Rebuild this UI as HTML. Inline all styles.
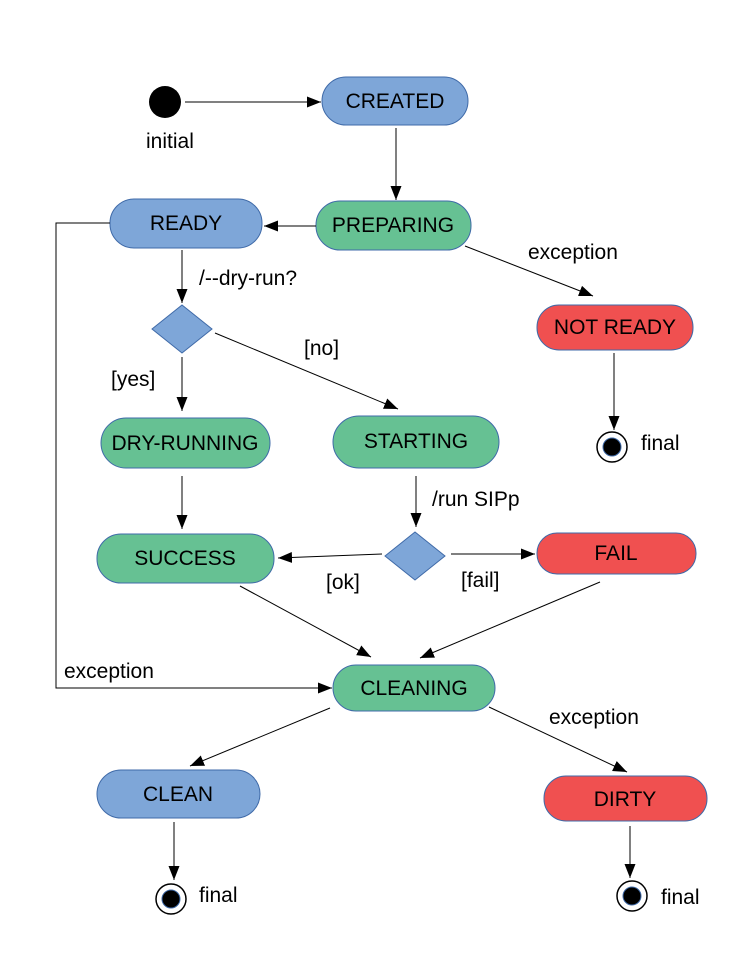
<!DOCTYPE html>
<html><head><meta charset="utf-8"><style>
html,body{margin:0;padding:0;background:#fff;}
svg{display:block;}
text{font-family:"Liberation Sans",sans-serif;font-size:21px;fill:#000;}
.b{fill:#7ea6d8;stroke:#3f6aa8;stroke-width:1;}
.g{fill:#66c193;stroke:#3f6aa8;stroke-width:1;}
.r{fill:#f05050;stroke:#3f6aa8;stroke-width:1;}
.l{stroke:#000;stroke-width:1;fill:none;marker-end:url(#a);}
</style></head><body>
<svg width="748" height="968" viewBox="0 0 748 968">
<defs><marker id="a" markerWidth="16" markerHeight="12" refX="14" refY="5.5" orient="auto" markerUnits="userSpaceOnUse"><path d="M0,0 L14,5.5 L0,11 Z" fill="#000"/></marker></defs>
<circle cx="165" cy="102" r="16" fill="#000"/>
<text x="146" y="148">initial</text>
<rect class="b" x="322" y="77" width="146" height="48" rx="24"/><text x="395" y="108" text-anchor="middle">CREATED</text>
<rect class="b" x="110" y="199" width="152" height="49" rx="24"/><text x="186" y="230" text-anchor="middle">READY</text>
<rect class="g" x="316" y="201" width="155" height="49" rx="24"/><text x="393" y="232" text-anchor="middle">PREPARING</text>
<rect class="r" x="537" y="305" width="156" height="45" rx="22"/><text x="615" y="334" text-anchor="middle">NOT READY</text>
<rect class="g" x="101" y="418" width="169" height="50" rx="25"/><text x="185" y="450" text-anchor="middle">DRY-RUNNING</text>
<rect class="g" x="333" y="416" width="166" height="52" rx="26"/><text x="416" y="448" text-anchor="middle">STARTING</text>
<rect class="g" x="97" y="534" width="177" height="49" rx="24"/><text x="185" y="565" text-anchor="middle">SUCCESS</text>
<rect class="r" x="537" y="533" width="159" height="41" rx="20"/><text x="616" y="560" text-anchor="middle">FAIL</text>
<rect class="g" x="333" y="665" width="162" height="46" rx="23"/><text x="414" y="695" text-anchor="middle">CLEANING</text>
<rect class="b" x="97" y="770" width="163" height="48" rx="24"/><text x="178" y="801" text-anchor="middle">CLEAN</text>
<rect class="r" x="544" y="776" width="163" height="45" rx="22"/><text x="625" y="806" text-anchor="middle">DIRTY</text>
<polygon class="b" points="152,329 182,305 212,329 182,353"/>
<polygon class="b" points="385,556 415,532 445,556 415,580"/>
<g fill="#fff" stroke="#000" stroke-width="1.5">
<circle cx="612" cy="447" r="15"/><circle cx="171" cy="899" r="15"/><circle cx="632" cy="896" r="15"/></g>
<g fill="#000" stroke="#3f6aa8" stroke-width="1">
<circle cx="612" cy="447" r="9"/><circle cx="171" cy="899" r="9"/><circle cx="632" cy="896" r="9"/></g>
<text x="641" y="450">final</text><text x="199" y="902">final</text><text x="661" y="904">final</text>
<line class="l" x1="185" y1="102" x2="321" y2="102"/>
<line class="l" x1="396" y1="128" x2="396" y2="200"/>
<line class="l" x1="316" y1="226" x2="264" y2="226"/>
<line class="l" x1="182" y1="250" x2="182" y2="303"/>
<line class="l" x1="465" y1="246" x2="593" y2="296"/>
<line class="l" x1="614" y1="353" x2="614" y2="430"/>
<line class="l" x1="215" y1="333" x2="398" y2="409"/>
<line class="l" x1="182" y1="357" x2="182" y2="411"/>
<line class="l" x1="182" y1="476" x2="182" y2="529"/>
<line class="l" x1="416" y1="476" x2="416" y2="527"/>
<line class="l" x1="382" y1="554" x2="278" y2="558"/>
<line class="l" x1="451" y1="554" x2="535" y2="554"/>
<line class="l" x1="240" y1="586" x2="371" y2="657"/>
<line class="l" x1="600" y1="582" x2="420" y2="658"/>
<polyline class="l" points="110,223 56,223 56,688 332,688"/>
<line class="l" x1="330" y1="708" x2="190" y2="766"/>
<line class="l" x1="489" y1="707" x2="627" y2="772"/>
<line class="l" x1="174" y1="822" x2="174" y2="880"/>
<line class="l" x1="630" y1="826" x2="630" y2="878"/>
<text x="528" y="259">exception</text>
<text x="199" y="285">/--dry-run?</text>
<text x="304" y="355">[no]</text>
<text x="111" y="386">[yes]</text>
<text x="432" y="506">/run SIPp</text>
<text x="326" y="589">[ok]</text>
<text x="461" y="587">[fail]</text>
<text x="64" y="678">exception</text>
<text x="549" y="724">exception</text>
</svg>
</body></html>
